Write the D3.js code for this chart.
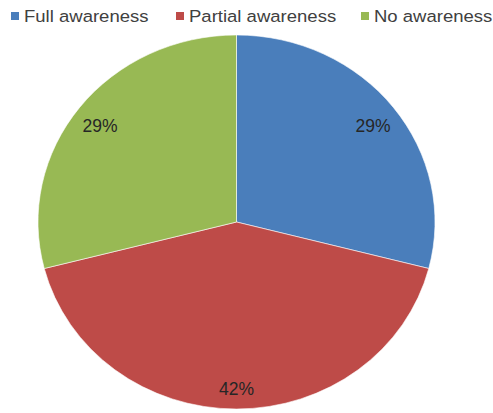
<!DOCTYPE html>
<html>
<head>
<meta charset="utf-8">
<script src="https://cdn.jsdelivr.net/npm/d3@7"></script>
<style>
  body { margin: 0; background: #fff; }
  svg { display: block; }
</style>
</head>
<body>
<div id="chart"></div>
<script>
const categories = ["Full awareness", "Partial awareness", "No awareness"];
const values = [29, 42, 29];
const labels = ["29%", "42%", "29%"];
const colors = ["#4a7ebb", "#be4b48", "#98b954"];

const width = 493, height = 413;
const cx = 236.5, cy = 222;
const rx = 198.5, ry = 187;

const svg = d3.select("#chart").append("svg")
    .attr("width", width)
    .attr("height", height);

const data = categories.map((c, i) => ({ name: c, value: values[i], label: labels[i] }));

const color = d3.scaleOrdinal().domain(categories).range(colors);

const pie = d3.pie().sort(null).value(d => d.value);
const arcs = pie(data);

const arc = d3.arc().innerRadius(0).outerRadius(rx);
const labelArc = d3.arc().innerRadius(rx * 0.87).outerRadius(rx * 0.87);

// pie is slightly squashed vertically in the reference
const pieG = svg.append("g")
    .attr("transform", `translate(${cx},${cy}) scale(1,${ry / rx})`);

pieG.selectAll("path")
    .data(arcs)
    .enter().append("path")
    .attr("d", arc)
    .attr("fill", d => color(d.data.name))
    .attr("stroke", "#fff")
    .attr("stroke-width", 0.6);

svg.append("g")
    .selectAll("text")
    .data(arcs)
    .enter().append("text")
    .attr("x", d => cx + labelArc.centroid(d)[0])
    .attr("y", d => cy + 4 + labelArc.centroid(d)[1] * ry / rx)
    .attr("dy", "0.35em")
    .attr("text-anchor", "middle")
    .attr("font-family", "Liberation Sans, Arial, sans-serif")
    .attr("font-size", 17.5)
    .attr("fill", "#262626")
    .text(d => d.data.label);

// legend
const legendX = [11, 176, 361];
const legend = svg.append("g")
    .attr("font-family", "Liberation Sans, Arial, sans-serif")
    .attr("font-size", 17)
    .selectAll("g")
    .data(categories)
    .enter().append("g")
    .attr("transform", (d, i) => `translate(${legendX[i]},0)`);

legend.append("rect")
    .attr("x", 0)
    .attr("y", 12)
    .attr("width", 8)
    .attr("height", 8)
    .attr("fill", d => color(d));

legend.append("text")
    .attr("x", 13)
    .attr("y", 22)
    .attr("fill", "#404040")
    .attr("transform", "scale(1.09,1)")
    .style("transform-box", "fill-box")
    .text(d => d);
</script>
</body>
</html>
